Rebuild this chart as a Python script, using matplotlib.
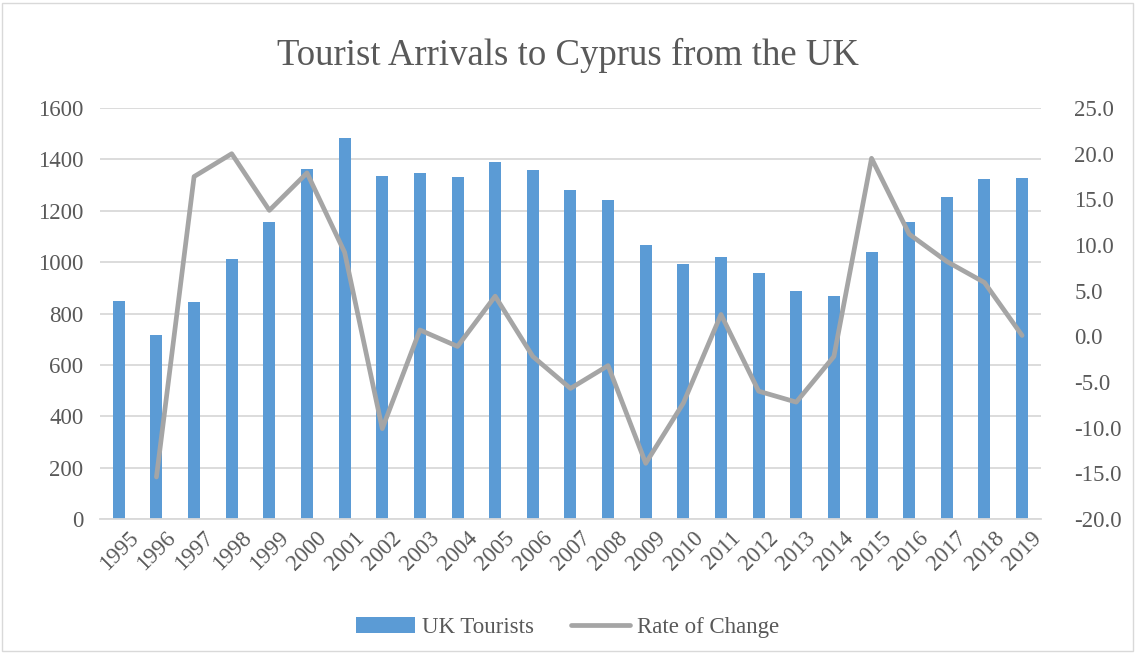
import numpy as np
import matplotlib.pyplot as plt
from matplotlib.patches import Rectangle
from matplotlib.ticker import FormatStrFormatter
from matplotlib.transforms import ScaledTranslation

years = ['1995', '1996', '1997', '1998', '1999', '2000', '2001', '2002', '2003',
         '2004', '2005', '2006', '2007', '2008', '2009', '2010', '2011', '2012',
         '2013', '2014', '2015', '2016', '2017', '2018', '2019']
uk_tourists = [848, 716, 845, 1012, 1156, 1362, 1485, 1335, 1347,
               1332, 1390, 1358, 1281, 1242, 1068, 994, 1020, 958,
               888, 868, 1039, 1157, 1255, 1324, 1328]
rate_of_change = [np.nan, -15.4, 17.5, 20.0, 13.8, 17.9, 9.2, -10.1, 0.7,
                  -1.1, 4.4, -2.2, -5.7, -3.2, -13.9, -7.3, 2.4, -6.0,
                  -7.2, -2.2, 19.5, 11.2, 8.2, 5.9, 0.1]

plt.rcParams['font.family'] = ['Liberation Serif', 'DejaVu Serif']
txt = '#595959'

fig = plt.figure(figsize=(11.35, 6.55), dpi=100)
fig.patches.append(Rectangle((0.002, 0.006), 0.996, 0.99, transform=fig.transFigure,
                             fill=False, edgecolor='#D9D9D9', linewidth=1))

ax = fig.add_axes([0.0881, 0.2076, 0.829, 0.6274])
x = np.arange(len(years))
ax.bar(x, uk_tourists, width=0.32, color='#5B9BD5', label='UK Tourists', zorder=2)
ax.set_ylim(0, 1600)
ax.set_yticks(range(0, 1601, 200))
ax.set_xlim(-0.5, len(years) - 0.5)
ax.set_xticks(x)
ax.set_xticklabels(years, rotation=45, ha='right', rotation_mode='anchor')
ax.grid(axis='y', color='#D9D9D9', linewidth=1.3, zorder=0)
ax.set_axisbelow(True)
for s in ['top', 'right', 'left']:
    ax.spines[s].set_visible(False)
ax.spines['bottom'].set_color('#D9D9D9')
ax.spines['bottom'].set_linewidth(1.3)
ax.tick_params(axis='both', length=0, labelsize=16.5, colors=txt, pad=12)
ax.tick_params(axis='x', pad=6)
# nudge the slanted year labels a little to the right, like the original
shift = ScaledTranslation(9 / 100, 0, fig.dpi_scale_trans)
for lbl in ax.get_xticklabels():
    lbl.set_transform(lbl.get_transform() + shift)

ax2 = ax.twinx()
ax2.plot(x, rate_of_change, color='#A5A5A5', linewidth=3.4, label='Rate of Change',
         solid_capstyle='round', zorder=3)
ax2.set_ylim(-20, 25)
ax2.set_yticks(range(-20, 26, 5))
ax2.yaxis.set_major_formatter(FormatStrFormatter('%.1f'))
for s in ax2.spines.values():
    s.set_visible(False)
ax2.tick_params(axis='y', length=0, labelsize=16.5, colors=txt, pad=24)

fig.text(0.5, 0.915, 'Tourist Arrivals to Cyprus from the UK', ha='center', va='center',
         fontsize=26.5, color=txt)

h1, l1 = ax.get_legend_handles_labels()
h2, l2 = ax2.get_legend_handles_labels()
fig.legend(h1 + h2, l1 + l2, loc='center', bbox_to_anchor=(0.5, 0.042), ncol=2,
           frameon=False, fontsize=16.5, labelcolor=txt, handlelength=2.6,
           handletextpad=0.3, columnspacing=1.6)

fig.savefig('out.png', dpi=100)
